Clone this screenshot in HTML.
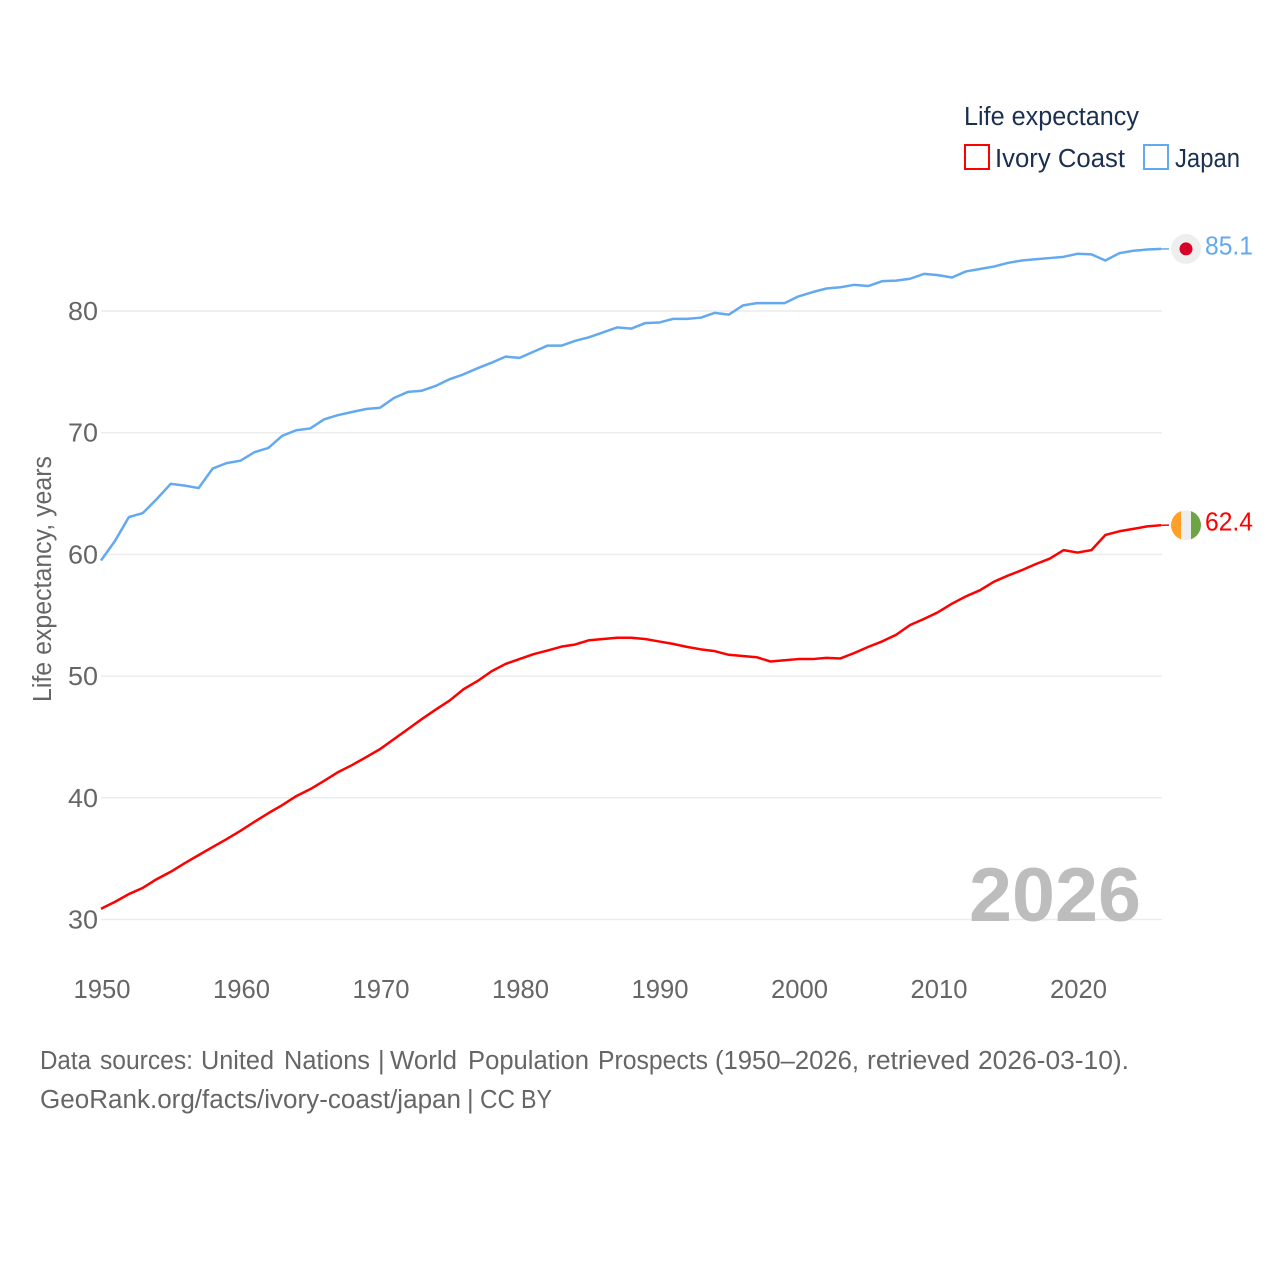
<!DOCTYPE html>
<html lang="en">
<head>
<meta charset="utf-8">
<title>Life expectancy: Ivory Coast and Japan</title>
<style>
html,body{margin:0;padding:0;background:#fff;}
svg{display:block;font-family:"Liberation Sans",sans-serif;}
.tick{font-size:25.5px;fill:#666;}
.legend{font-size:25.5px;fill:#1b3050;}
.foot{font-size:25.5px;fill:#666;}
</style>
</head>
<body>
<svg id="chart" xmlns="http://www.w3.org/2000/svg" width="1280" height="1280" viewBox="0 0 1280 1280">
  <defs>
    <clipPath id="flag-clip"><circle cx="0" cy="0" r="15"></circle></clipPath>
  </defs>
  <rect x="0" y="0" width="1280" height="1280" fill="#fff"></rect>
  <g id="grid"></g>
  <g id="y-ticks"></g>
  <g id="x-ticks"></g>
  <text class="tick" transform="translate(51,702) rotate(-90)" x="0" y="0" textLength="246" lengthAdjust="spacingAndGlyphs">Life expectancy, years</text>
  <text x="969" y="921" font-size="76" font-weight="700" fill="#bdbdbd" textLength="172" lengthAdjust="spacingAndGlyphs">2026</text>
  <g id="series"></g>
  <g id="end-markers"></g>
  <g>
    <text class="legend" x="964" y="125" textLength="175" lengthAdjust="spacingAndGlyphs">Life expectancy</text>
    <rect x="965" y="145" width="24" height="24" fill="#fff" stroke="#ff0000" stroke-width="2"></rect>
    <text class="legend" x="995" y="167" textLength="130" lengthAdjust="spacingAndGlyphs">Ivory Coast</text>
    <rect x="1144" y="145" width="24" height="24" fill="#fff" stroke="#63a9f0" stroke-width="2"></rect>
    <text class="legend" x="1175" y="167" textLength="65" lengthAdjust="spacingAndGlyphs">Japan</text>
  </g>
  <text class="foot" y="1069"><tspan x="40" textLength="51" lengthAdjust="spacingAndGlyphs">Data</tspan> <tspan x="100" textLength="93" lengthAdjust="spacingAndGlyphs">sources:</tspan> <tspan x="201" textLength="73" lengthAdjust="spacingAndGlyphs">United</tspan> <tspan x="284" textLength="86" lengthAdjust="spacingAndGlyphs">Nations</tspan> <tspan x="378">|</tspan> <tspan x="390" textLength="67" lengthAdjust="spacingAndGlyphs">World</tspan> <tspan x="468" textLength="121" lengthAdjust="spacingAndGlyphs">Population</tspan> <tspan x="598" textLength="110" lengthAdjust="spacingAndGlyphs">Prospects</tspan> <tspan x="715" textLength="144" lengthAdjust="spacingAndGlyphs">(1950–2026,</tspan> <tspan x="867" textLength="103" lengthAdjust="spacingAndGlyphs">retrieved</tspan> <tspan x="978" textLength="151" lengthAdjust="spacingAndGlyphs">2026-03-10).</tspan></text>
  <text class="foot" y="1108"><tspan x="40" textLength="421" lengthAdjust="spacingAndGlyphs">GeoRank.org/facts/ivory-coast/japan</tspan> <tspan x="467">|</tspan> <tspan x="480" textLength="35" lengthAdjust="spacingAndGlyphs">CC</tspan> <tspan x="521" textLength="31" lengthAdjust="spacingAndGlyphs">BY</tspan></text>
</svg>
<script>
const years = [1950,1951,1952,1953,1954,1955,1956,1957,1958,1959,1960,1961,1962,1963,1964,1965,1966,1967,1968,1969,1970,1971,1972,1973,1974,1975,1976,1977,1978,1979,1980,1981,1982,1983,1984,1985,1986,1987,1988,1989,1990,1991,1992,1993,1994,1995,1996,1997,1998,1999,2000,2001,2002,2003,2004,2005,2006,2007,2008,2009,2010,2011,2012,2013,2014,2015,2016,2017,2018,2019,2020,2021,2022,2023,2024,2025,2026];
const japan = [59.5,61.1,63.07,63.4,64.55,65.8,65.65,65.45,67.05,67.5,67.7,68.4,68.75,69.75,70.2,70.35,71.1,71.45,71.7,71.95,72.05,72.85,73.35,73.45,73.85,74.4,74.8,75.3,75.75,76.25,76.15,76.65,77.15,77.15,77.55,77.85,78.25,78.65,78.55,79.0,79.05,79.35,79.35,79.45,79.85,79.7,80.45,80.65,80.65,80.65,81.2,81.55,81.85,81.95,82.15,82.05,82.45,82.5,82.65,83.05,82.95,82.75,83.25,83.45,83.65,83.95,84.15,84.25,84.35,84.45,84.7,84.65,84.15,84.75,84.95,85.05,85.1];
const ivoryCoast = [30.88,31.45,32.09,32.6,33.32,33.92,34.63,35.29,35.95,36.6,37.29,38.03,38.74,39.4,40.14,40.71,41.4,42.11,42.69,43.34,44.0,44.82,45.64,46.47,47.25,48.0,48.93,49.6,50.4,51.0,51.4,51.8,52.1,52.42,52.6,52.95,53.05,53.15,53.15,53.05,52.85,52.65,52.4,52.2,52.05,51.75,51.65,51.55,51.2,51.3,51.4,51.4,51.5,51.45,51.9,52.4,52.85,53.4,54.2,54.7,55.25,55.95,56.55,57.05,57.75,58.25,58.7,59.2,59.65,60.35,60.15,60.35,61.6,61.9,62.1,62.3,62.4];
const yTicks = [30,40,50,60,70,80];
const xTicks = [1950,1960,1970,1980,1990,2000,2010,2020];
const japanLabel = "85.1";
const ivoryCoastLabel = "62.4";

const NS = "http://www.w3.org/2000/svg";
function xScale(year) { return 101 + (year - 1950) * 13.95; }
function yScale(value) { return 919.5 - (value - 30) * 12.17; }
function make(tag, parent, attrs) {
  const el = document.createElementNS(NS, tag);
  for (const k in attrs) el.setAttribute(k, attrs[k]);
  parent.appendChild(el);
  return el;
}

const gridGroup = document.getElementById("grid");
const yTickGroup = document.getElementById("y-ticks");
yTicks.forEach(function (t) {
  const line = make("line", gridGroup, { x1: 101, x2: 1162, y1: yScale(t), y2: yScale(t), stroke: "#ececec", "stroke-width": 1.5 });
  
  
  const label = make("text", yTickGroup, { class: "tick", x: 98, y: yScale(t) + 9, "text-anchor": "end", textLength: 30, lengthAdjust: "spacingAndGlyphs" });
  
  
  label.textContent = t;
});

const xTickGroup = document.getElementById("x-ticks");
xTicks.forEach(function (t) {
  const label = make("text", xTickGroup, { class: "tick", x: xScale(t) + 1, y: 998, "text-anchor": "middle", textLength: 57, lengthAdjust: "spacingAndGlyphs" });
  
  
  label.textContent = t;
});

function points(values) {
  return values.map(function (v, i) { return xScale(years[i]).toFixed(2) + "," + yScale(v).toFixed(2); }).join(" ");
}
const seriesGroup = document.getElementById("series");
const markerGroup = document.getElementById("end-markers");

const japanLine = make("polyline", seriesGroup, { points: points(japan), fill: "none", stroke: "#63a9f0", "stroke-width": 2.5, "stroke-linejoin": "round" });


const ivoryLine = make("polyline", seriesGroup, { points: points(ivoryCoast), fill: "none", stroke: "#ff0000", "stroke-width": 2.5, "stroke-linejoin": "round" });



const lastYear = years[years.length - 1];
const japanEnd = yScale(japan[japan.length - 1]);
const ivoryEnd = yScale(ivoryCoast[ivoryCoast.length - 1]);

const japanConnector = make("line", markerGroup, { x1: xScale(lastYear), x2: 1169, y1: japanEnd, y2: japanEnd, stroke: "#63a9f0", "stroke-width": 1.5 });


const ivoryConnector = make("line", markerGroup, { x1: xScale(lastYear), x2: 1169, y1: ivoryEnd, y2: ivoryEnd, stroke: "#ff0000", "stroke-width": 1.5 });



const japanFlag = make("g", markerGroup, { transform: "translate(1186," + japanEnd + ")" });


make("circle", japanFlag, { cx: 0, cy: 0, r: 15, fill: "#eeeeee" });
make("circle", japanFlag, { cx: 0, cy: 0, r: 6.5, fill: "#d80027" });

const ivoryFlag = make("g", markerGroup, { transform: "translate(1186," + ivoryEnd + ")" });


const ivoryBands = make("g", ivoryFlag, { "clip-path": "url(#flag-clip)" });
make("rect", ivoryBands, { x: -15, y: -15, width: 10, height: 30, fill: "#ffa126" });
make("rect", ivoryBands, { x: -5, y: -15, width: 10, height: 30, fill: "#eeeeee" });
make("rect", ivoryBands, { x: 5, y: -15, width: 10, height: 30, fill: "#6da544" });

const japanValue = make("text", markerGroup, { x: 1205, y: japanEnd + 5.5, "font-size": 25.5, fill: "#63a9f0", textLength: 48, lengthAdjust: "spacingAndGlyphs" });


japanValue.textContent = japanLabel;
const ivoryValue = make("text", markerGroup, { x: 1205, y: ivoryEnd + 5.5, "font-size": 25.5, fill: "#ff0000", textLength: 48, lengthAdjust: "spacingAndGlyphs" });


ivoryValue.textContent = ivoryCoastLabel;
</script>
</body>
</html>
